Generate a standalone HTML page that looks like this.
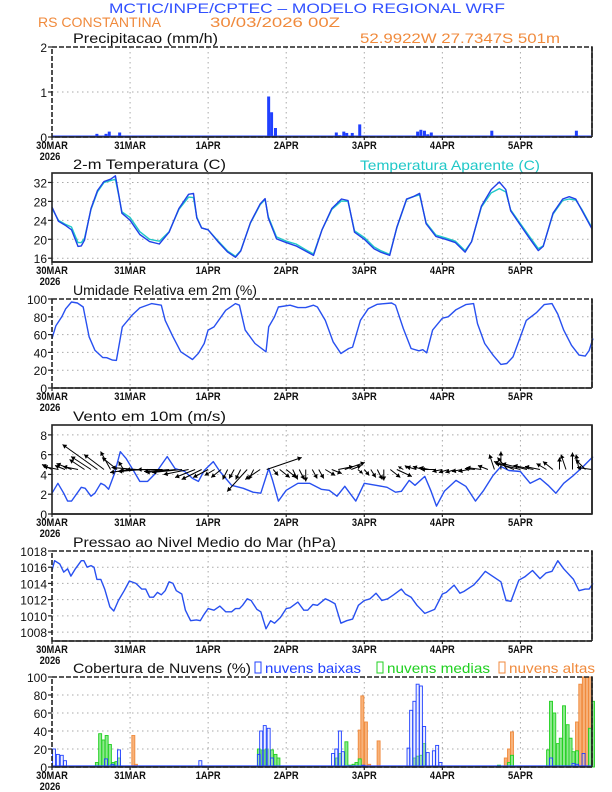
<!DOCTYPE html>
<html><head><meta charset="utf-8">
<style>
html,body{margin:0;padding:0;background:#fff;}
svg{display:block;font-family:"Liberation Sans",sans-serif;}
</style></head>
<body>
<svg id="chart" width="612" height="792" viewBox="0 0 612 792" xmlns="http://www.w3.org/2000/svg">
<text x="109" y="13" font-size="14" fill="#3050ff" textLength="396" lengthAdjust="spacingAndGlyphs">MCTIC/INPE/CPTEC – MODELO REGIONAL WRF</text>
<text x="38" y="27" font-size="14" fill="#f08a3c" textLength="123" lengthAdjust="spacingAndGlyphs">RS CONSTANTINA</text>
<text x="210" y="27" font-size="14" fill="#f08a3c" textLength="130" lengthAdjust="spacingAndGlyphs">30/03/2026 00Z</text>
<text x="360" y="43" font-size="14" fill="#f08a3c" textLength="200" lengthAdjust="spacingAndGlyphs">52.9922W 27.7347S 501m</text>
<text x="360" y="170" font-size="14" fill="#20c8c8" textLength="180" lengthAdjust="spacingAndGlyphs">Temperatura Aparente (C)</text>
<g id="plots"></g>
</svg>
<script>
// ---------- data ----------
const precipHours=[13.8,16.6,17.6,19,20.8,66.6,67.5,68.7,80,87.4,88.4,89.7,90.6,92.3,94.6,95.5,112.4,113.4,114.5,115.5,116.6,134.5,135.2,161.2];
const precipVals=[0.07,0.07,0.12,0.03,0.1,0.9,0.55,0.2,0.02,0.1,0.04,0.12,0.09,0.09,0.28,0.03,0.12,0.16,0.14,0.06,0.1,0.02,0.14,0.14];

const tempHours=[0,2,4,6,8,9,10,12,14,16,18,19.5,20.5,21.5,24,27,30,33,36,39,42,43.5,44.5,46,48,51,54,56.4,58,61,64,65.5,66.5,69,72,75,78,80.4,83,86,89,91,93,96,99,101,103.8,106,109,111,113,115,118,121,124,127,129,132,135,137.5,139.5,141,144,147,149.5,151,154,157,159,161,163,166];
const tempVals=[26.8,23.8,23.0,22.0,18.5,18.6,19.8,26.5,30.3,32.2,32.7,33.4,29.5,25.5,24.0,21.0,19.5,19.0,21.5,26.5,29.5,29.7,24.5,22.4,22.0,19.5,17.3,16.2,17.5,23.5,27.5,28.6,24.5,20.1,19.3,18.6,17.5,16.6,22,26.5,28.5,28.2,21.5,20.0,18.0,17.3,16.6,22.5,28.5,29.0,29.7,23.3,20.6,20.0,19.3,17.3,19.5,27.0,30.5,32.1,30.5,26.0,23.0,20.0,17.6,18.5,25.5,28.5,29.0,28.5,26.0,22.2];
const appTempVals=[26.5,24.0,23.2,22.6,19.3,19.3,20.2,26.3,30.0,32.0,32.4,32.7,29.3,25.8,24.6,21.6,20.0,19.6,21.6,26.3,28.9,28.8,24.7,22.4,22.0,19.7,17.5,16.4,17.6,23.4,27.3,28.4,24.8,20.5,19.6,19.0,17.8,16.9,22,26.3,28.1,28.0,21.8,20.4,18.4,17.6,16.8,22.4,28.4,29.0,29.4,23.5,20.9,20.3,19.6,17.6,19.5,26.8,29.8,30.7,30.0,26.2,23.3,20.4,18.0,18.6,25.3,28.2,28.5,28.3,26.2,22.4];

const rhHours=[0,1.2,3,4.2,6,7.8,9.6,11.4,13.2,15.6,16.8,18.6,19.8,21.6,24.6,27,30.6,33.6,34.8,37.2,39.6,43.2,45,46.8,48,49.8,53.4,56.4,57.6,59.4,62.4,65.8,66.6,68.4,69.6,73.2,75.6,78,80.4,81.6,84,86.4,88.8,91.2,92.4,94.8,97.2,100,104.4,105.6,108,110.4,112.8,114,115.2,117,120,121.8,124.2,127.2,129.6,130.8,133,135.6,138,139.8,141.7,144,145.8,149,151.3,153.7,155.5,157.3,159.7,162,163.9,165.1,166.3];
const rhVals=[55.6,70,80,89,96.6,95.5,91,57.5,42.5,34.3,34,31.3,31,68.7,81.7,90,94.8,93,76,57.5,40.7,32,39,50,65,68.7,87.3,94.8,93,65,50,40.7,68.7,80,91,93,90.3,90.3,93,91,76,51.9,38.8,44.4,46,76,89,94,95.5,93,66.8,44.4,41.8,43,39.6,65,78.4,80,88,93.7,94.8,72.4,50,36.9,26.5,27.5,35,57.5,76,85,93.7,94.8,83,65,48,37,35.8,42,55.6];

const windHours=[0,1.8,3.6,4.8,6,9,10.2,12,13.2,15,16.2,17.4,19.2,21,22.8,25.2,27,29.4,31.8,35.4,37.8,40.8,43.2,45,46.8,49.6,51.6,55.2,58.8,61.8,64.2,66.6,67.8,69.6,72,75.6,79.2,82.8,85.2,87.6,90,91.8,93.4,96,99.6,103,105.6,107.4,109.8,111.6,114.6,116.4,118.2,120.6,124.2,127.2,130.2,132.7,135.6,138,140.5,144,147,150,152.5,154.9,157.3,160.3,163.3,166.3];
const windVals=[2.1,3.1,2.1,1.3,1.3,2.7,2.6,1.8,2.1,3.1,2.9,2.5,4.1,6.3,5.6,4.3,3.3,3.3,4.1,5.8,4.6,4.3,3.6,3.3,4.4,5.3,4.3,2.9,2.6,2.2,2.1,4.6,3.4,1.3,2.4,3.1,3.1,2.5,2.4,1.8,2.8,2.0,1.3,3.1,2.9,2.7,2.2,2.3,3.4,2.9,3.8,2.4,0.8,2.3,3.4,2.8,1.3,2.4,3.9,4.8,4.4,4.3,3.1,3.6,2.9,2.1,3.1,3.9,4.8,5.8];
// wind vectors every 2 hours from t=0
const windU=[-1,-1.5,-1,-1.5,-1.5, -1.5,-2,-3.5,-2,-1,-1.5,-0.5, -2,-2.5,-2.5,-3,-3,-2.5,-2.5,-3,-3,-2.5,-2,-2, -1.5,-1,-1,-0.5,-0.5,-0.5,-2, -0.5,-1.5,3.5, 0.5,1,1,0.5,0.5,0,0.5,0.5,1,1,1.5,2, 1,0.5,0.5,0.5,0.5,0,1,1.5,-0.5,-0.5,-1,-1, -1,-1.5,-1,-1,-1,-1,-1,-1,-1.5,-1, -0.5,0,-1,-2,-2.5,-2.5,-2,-1.5, -1,-1,0,-0.5,0,-0.3,-1,-1.5];
const windV=[0.5,0.3,0.4,0.6,0.3, 1,1.3,2.5,1.5,1.8,1.2,0.8, -0.3,0.2,-0.2,-0.1,0,0,-0.2,-0.3,-0.3,-0.5,-0.8,-1, -0.8,-0.6,-0.8,-1,-0.9,-1,-2.2, -1,-1,1.2, -0.6,-0.8,-0.8,-1,-1,-1.2,-0.9,-0.9,-0.6,-0.4,0.3,0.7, 0.4,-0.4,-0.6,-0.8,-1,-1.1,-0.8,-0.7,0.3,0.4,0.3,0.3, 0.2,0,-0.2,-0.3,-0.3,-0.2,-0.2,0.1,0.2,0.4, 1.5,1.8,1.2,0.8,0.6,0.6,0.4,0.3, 0.6,0.8,1.2,1.5,1.7,1.5,1,0.2];

const presHours=[0,0.8,2.4,3.6,4.8,5.8,7.2,9,9.8,10.8,12,12.9,13.8,15,16.2,17.8,19,20.4,22.2,23.8,25.8,27.6,28.8,30,31.2,32.4,33.6,34.8,36,37.2,38.2,39.9,41,42.6,44.4,45.6,46.8,48,49.8,51.6,53.4,55.2,56.4,57.6,58.6,60,61.2,63,64.2,65.8,67.2,68.4,70.2,72,73.2,75.6,77.4,78.6,80.2,81.6,84,85.2,87,88.8,90.6,92.4,94.2,96,97.8,99.6,101.4,103.2,105,107.4,108.6,110.4,112.2,114.6,116.4,117.6,120,121.2,123.6,125.4,126.6,129.6,131.4,133.2,135,138,139.6,141.1,143.5,145.3,147.7,150,151.9,153.7,155.5,157.3,160.3,162,163.9,165.1,166.3];
const presVals=[1015.6,1016.8,1016.4,1015.4,1015.8,1014.9,1015.8,1016.8,1016.8,1016,1016.2,1016,1014.5,1014.5,1013.3,1011.1,1010.6,1011.9,1013.1,1014.3,1014,1013.3,1013.3,1012.3,1012.3,1012.9,1012.6,1013.1,1014.2,1014,1013.1,1012.7,1010.7,1009.4,1009.5,1009.4,1010.2,1010.9,1010.7,1011.2,1010.5,1010.5,1010.9,1010.9,1011.3,1012.1,1011.9,1010.8,1010.5,1008.4,1009.4,1009.1,1009.8,1010.9,1011,1011.7,1010.7,1010.7,1011.4,1011.3,1012.1,1011.9,1011.5,1009.1,1009.4,1009.6,1011.3,1011.9,1012.1,1012.8,1011.9,1012.1,1012.6,1013.3,1012.7,1012.3,1011.3,1010.3,1010.6,1010.8,1012.7,1012.9,1013.8,1012.8,1013,1013.8,1014.6,1015.5,1015,1014.2,1011.9,1011.8,1014.4,1014.8,1015.6,1014.6,1015.3,1015.5,1016.8,1015.8,1014.5,1013.1,1013.3,1013.3,1014];

const lowHours=[0.6,1.8,3,4,16.6,18.6,20.6,45.6,63.6,64.3,65.4,66.6,67.6,86.4,87.4,88.5,89.4,95.7,109.6,110.4,111.4,112.4,113.4,114.4,115.5,117.4,118.4,119.4,153.4,160.3,161.4,163.4];
const lowVals=[20,14,13,7,9,3,19,7,14,40,46,43,10,15,20,40,17,2,21,63,73,92,90,45,16,18,24,5,10,4,3,15];
const midHours=[13.8,14.8,15.8,16.8,17.8,18.8,19.8,20.6,63.6,64.8,66,67.6,68.7,69.6,87.6,88.6,90.5,91.5,92.7,93.6,94.6,111.4,112.4,113.4,114.4,135.4,137.4,139.2,140.5,141.4,152.5,153.4,154.4,155.5,156.4,157.4,158.5,159.4,160.3,161.4,165.4,166.3];
const midVals=[5,37,30,35,25,5,6,10,20,19,20,19,14,10,10,15,28,2,3,5,9,10,12,13,26,1,2,1,5,13,19,73,60,26,32,68,47,32,17,18,43,73];
const highHours=[25,25.8,94.6,95.4,96.5,97.5,100.4,139.5,140.5,141.4,161.4,162.4,163.5,164.5,165.4];
const highVals=[35,3,41,79,50,3,29,10,20,39,50,92,100,100,100];

const dayLabels=["30MAR","31MAR","1APR","2APR","3APR","4APR","5APR"];
const T_END=166, X0=52, X1=592;
function xs(t){return X0+(X1-X0)*t/T_END;}

const NS="http://www.w3.org/2000/svg";
const root=document.getElementById('plots');
function el(tag,attrs,parent){const e=document.createElementNS(NS,tag);for(const k in attrs)e.setAttribute(k,attrs[k]);(parent||root).appendChild(e);return e;}

function panel(key,top,bot,ymin,ymax,ticks,title,titleW,dashed){
  const g=el('g',{});
  
  
  const ys=v=>bot-(v-ymin)/(ymax-ymin)*(bot-top);
  for(let d=1;d<7;d++){const gx=xs(d*24);
    const l=el('line',{x1:gx,x2:gx,y1:top,y2:bot,stroke:'#aaa','stroke-width':1,'stroke-dasharray':'1.5,3.5'},g);
    
    }
  ticks.forEach(v=>{const gy=ys(v);
    if(v>ymin+1e-9&&v<ymax-1e-9){const l=el('line',{x1:X0,x2:X1,y1:gy,y2:gy,stroke:'#aaa','stroke-width':1,'stroke-dasharray':'1.5,3.5'},g);
      
      }
    el('line',{x1:X0-4,x2:X0,y1:gy,y2:gy,stroke:'#222','stroke-width':1.2},g);
    const t=el('text',{x:X0-5,y:gy+5,'text-anchor':'end','font-size':12,fill:'#111'},g);
    t.textContent=v;
    
    
  });
  for(let d=0;d<7;d++){const gx=xs(d*24);
    el('line',{x1:gx,x2:gx,y1:bot,y2:bot+3,stroke:'#222','stroke-width':1.2},g);
    const t=el('text',{x:gx,y:bot+12,'text-anchor':'middle','font-size':11,'font-weight':'bold',fill:'#111',transform:`translate(${gx},0) scale(0.85,1) translate(${-gx},0)`},g);
    t.textContent=dayLabels[d];
    
    }
  const yr=el('text',{x:50,y:bot+23,'text-anchor':'middle','font-size':11,'font-weight':'bold',fill:'#111',transform:`translate(50,0) scale(0.85,1) translate(-50,0)`},g);
  yr.textContent='2026';
  
  
  const tt=el('text',{x:73,y:top-4,'font-size':14,fill:'#111',textLength:titleW,lengthAdjust:'spacingAndGlyphs'},g);
  tt.textContent=title;
  
  
  return {g,ys,top,bot,frame:()=>{
    const f=el('rect',{x:X0,y:top,width:X1-X0,height:bot-top,fill:'none',stroke:'#222','stroke-width':1.6,'stroke-dasharray':dashed?'5,2':'none'},g);
    
    
    el('line',{x1:X1,x2:X1,y1:top,y2:bot,stroke:'#222','stroke-width':1.6},g);
    el('line',{x1:X0,x2:X1,y1:bot,y2:bot,stroke:'#222','stroke-width':1.6},g);
  }};
}
function line(p,hours,vals,color,name,w){
  const d=hours.map((h,i)=>(i?'L':'M')+xs(h).toFixed(1)+','+p.ys(vals[i]).toFixed(1)).join('');
  const l=el('path',{d,fill:'none',stroke:color,'stroke-width':w||1.4,'stroke-linejoin':'round'},p.g);
  
  
}
function bars(p,hours,vals,stroke,fill,name){
  hours.forEach((h,i)=>{const x=xs(h)-1.5, y=p.ys(vals[i]);
    const r=el('rect',{x:x,y:y,width:3,height:Math.max(0,p.bot-y),fill:fill,stroke:stroke,'stroke-width':0.9},p.g);
    
    });
}

const p1=panel('precip',47,137,0,2,[0,1,2],'Precipitacao (mm/h)',145,true);
bars(p1,precipHours,precipVals,'none','#2040ff','precip-bar');
el('line',{x1:X0,x2:X1,y1:136,y2:136,stroke:'#2040ff','stroke-width':1},p1.g);
p1.frame();

const p2=panel('temp',173,262,15.2,34,[16,20,24,28,32],'2-m Temperatura (C)',153,false);
line(p2,tempHours,appTempVals,'#20c8c8','apparent-temp-line');
line(p2,tempHours,tempVals,'#2040e8','temp-line');
p2.frame();

const p3=panel('humidity',299,388,0,100,[0,20,40,60,80,100],'Umidade Relativa em 2m (%)',184,true);
line(p3,rhHours,rhVals,'#2850f0','humidity-line');
p3.frame();

const p4=panel('wind',425,514,0,9,[0,2,4,6,8],'Vento em 10m (m/s)',153,false);
line(p4,windHours,windVals,'#2850f0','wind-speed-line');
windU.forEach((u,i)=>{const x0=xs(i*2),y0=p4.ys(4.5),x1=x0+u*10,y1=y0-windV[i]*10;
  const a=el('line',{x1:x0,y1:y0,x2:x1,y2:y1,stroke:'#000','stroke-width':1},p4.g);
  
  
  const L=Math.hypot(x1-x0,y1-y0)||1, ux=(x1-x0)/L, uy=(y1-y0)/L, hs=Math.min(4,L*0.5);
  el('path',{d:`M${x1},${y1}L${x1-ux*hs-uy*hs*0.6},${y1-uy*hs+ux*hs*0.6}L${x1-ux*hs+uy*hs*0.6},${y1-uy*hs-ux*hs*0.6}Z`,fill:'#000'},p4.g);
});
p4.frame();

const p5=panel('pressure',551,641,1006.9,1018,[1008,1010,1012,1014,1016,1018],'Pressao ao Nivel Medio do Mar (hPa)',263,true);
line(p5,presHours,presVals,'#2850f0','pressure-line');
p5.frame();

const p6=panel('clouds',677,767,0,100,[0,20,40,60,80,100],'Cobertura de Nuvens (%)',178,true);
bars(p6,highHours,highVals,'#f08a3c','#f7b27a','high-cloud-bar');
bars(p6,midHours,midVals,'#20d020','#8ee88e','mid-cloud-bar');
bars(p6,lowHours,lowVals,'#2040ff','rgba(200,210,255,0.3)','low-cloud-bar');
el('line',{x1:X0,x2:X1,y1:766,y2:766,stroke:'#2040ff','stroke-width':1.2},p6.g);
p6.frame();
[['nuvens baixas','#2040ff',255,'legend-low-clouds',96],['nuvens medias','#20d020',377,'legend-mid-clouds',103],['nuvens altas','#f08a3c',499,'legend-high-clouds',86]].forEach(([txt,c,x,n,w])=>{
  const r=el('rect',{x:x,y:662,width:6,height:11,fill:'none',stroke:c,'stroke-width':1});
  
  
  const t=el('text',{x:x+10,y:673,'font-size':14,fill:c,textLength:w,lengthAdjust:'spacingAndGlyphs'});
  t.textContent=txt;
  
  
});
</script>
</body></html>
